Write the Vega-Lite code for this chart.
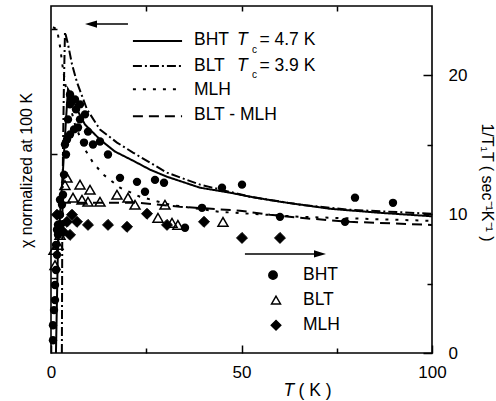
{
  "$schema": "https://vega.github.io/schema/vega-lite/v6.json",
  "width": 381,
  "height": 347,
  "autosize": {"type": "none"},
  "padding": {"left": 51, "top": 6, "right": 64, "bottom": 48},
  "background": "white",
  "config": {
    "view": {"stroke": "black", "strokeWidth": 1.6},
    "axis": {"grid": false, "domain": false, "tickColor": "black", "tickWidth": 1.5, "labelColor": "black", "labelFont": "Liberation Sans", "labelFontSize": 17, "titleFont": "Liberation Sans", "titleFontWeight": "normal", "titleColor": "black", "titleFontSize": 17, "labelFlush": false, "labelOverlap": false}
  },
  "datasets": {
    "curves": [
      {"s": "BHT", "T": 1.3, "v": 0}, {"s": "BHT", "T": 1.84, "v": 7.77}, {"s": "BHT", "T": 3.15, "v": 13.21}, {"s": "BHT", "T": 3.94, "v": 16.83}, {"s": "BHT", "T": 4.46, "v": 19.0}, {"s": "BHT", "T": 5.51, "v": 18.49}, {"s": "BHT", "T": 6.82, "v": 17.55}, {"s": "BHT", "T": 8.92, "v": 16.46}, {"s": "BHT", "T": 12.86, "v": 15.38}, {"s": "BHT", "T": 16.8, "v": 14.51}, {"s": "BHT", "T": 21.52, "v": 13.86}, {"s": "BHT", "T": 25.98, "v": 13.21}, {"s": "BHT", "T": 30.45, "v": 12.7}, {"s": "BHT", "T": 39.11, "v": 11.91}, {"s": "BHT", "T": 46.98, "v": 11.55}, {"s": "BHT", "T": 52.23, "v": 11.26}, {"s": "BHT", "T": 60.1, "v": 10.9}, {"s": "BHT", "T": 73.23, "v": 10.39}, {"s": "BHT", "T": 86.35, "v": 10.1}, {"s": "BHT", "T": 100, "v": 9.85},
      {"s": "BLT", "T": 2.85, "v": 0}, {"s": "BLT", "T": 2.95, "v": 8.0}, {"s": "BLT", "T": 3.15, "v": 14.65}, {"s": "BLT", "T": 3.4, "v": 19.5}, {"s": "BLT", "T": 3.67, "v": 23.12}, {"s": "BLT", "T": 4.46, "v": 22.25}, {"s": "BLT", "T": 5.51, "v": 20.8}, {"s": "BLT", "T": 6.82, "v": 19.5}, {"s": "BLT", "T": 9.45, "v": 17.55}, {"s": "BLT", "T": 12.86, "v": 16.1}, {"s": "BLT", "T": 17.32, "v": 15.16}, {"s": "BLT", "T": 21.52, "v": 14.44}, {"s": "BLT", "T": 30.45, "v": 12.99}, {"s": "BLT", "T": 39.11, "v": 12.13}, {"s": "BLT", "T": 52.23, "v": 11.26}, {"s": "BLT", "T": 65.35, "v": 10.68}, {"s": "BLT", "T": 78.48, "v": 10.32}, {"s": "BLT", "T": 100, "v": 10.03},
      {"s": "MLH", "T": 0.52, "v": 23.47}, {"s": "MLH", "T": 1.57, "v": 23.33}, {"s": "MLH", "T": 2.36, "v": 22.1}, {"s": "MLH", "T": 3.15, "v": 20.44}, {"s": "MLH", "T": 4.2, "v": 18.63}, {"s": "MLH", "T": 6.3, "v": 16.46}, {"s": "MLH", "T": 8.92, "v": 14.66}, {"s": "MLH", "T": 11.02, "v": 13.72}, {"s": "MLH", "T": 13.75, "v": 12.85}, {"s": "MLH", "T": 18.11, "v": 11.91}, {"s": "MLH", "T": 23.36, "v": 11.26}, {"s": "MLH", "T": 31.23, "v": 10.68}, {"s": "MLH", "T": 44.36, "v": 10.17}, {"s": "MLH", "T": 65.35, "v": 9.81}, {"s": "MLH", "T": 100, "v": 9.52},
      {"s": "BLT - MLH", "T": 2.62, "v": 10.82}, {"s": "BLT - MLH", "T": 10.24, "v": 10.82}, {"s": "BLT - MLH", "T": 23.36, "v": 10.82}, {"s": "BLT - MLH", "T": 33.86, "v": 10.54}, {"s": "BLT - MLH", "T": 49.61, "v": 10.25}, {"s": "BLT - MLH", "T": 57.48, "v": 9.96}, {"s": "BLT - MLH", "T": 65.35, "v": 9.74}, {"s": "BLT - MLH", "T": 78.48, "v": 9.45}, {"s": "BLT - MLH", "T": 100, "v": 9.23}
    ],
    "keylines": [
      {"s": "BHT", "T": 21.5, "v": 22.47}, {"s": "BHT", "T": 34.4, "v": 22.47},
      {"s": "BLT", "T": 21.5, "v": 20.68}, {"s": "BLT", "T": 34.4, "v": 20.68},
      {"s": "MLH", "T": 21.5, "v": 19.0}, {"s": "MLH", "T": 34.4, "v": 19.0},
      {"s": "BLT - MLH", "T": 21.5, "v": 17.06}, {"s": "BLT - MLH", "T": 34.4, "v": 17.06}
    ],
    "bht": [
      {"T": 0.52, "v": 0.92}, {"T": 0.52, "v": 2.0}, {"T": 0.79, "v": 3.09}, {"T": 1.05, "v": 3.81}, {"T": 1.05, "v": 4.9}, {"T": 1.31, "v": 5.98}, {"T": 1.57, "v": 7.07}, {"T": 1.31, "v": 7.79}, {"T": 1.84, "v": 8.52}, {"T": 1.84, "v": 9.24}, {"T": 2.36, "v": 9.96}, {"T": 2.89, "v": 10.68}, {"T": 2.36, "v": 11.04}, {"T": 1.57, "v": 8.88},
      {"T": 3.15, "v": 11.4}, {"T": 3.41, "v": 12.85}, {"T": 3.94, "v": 14.3}, {"T": 4.2, "v": 15.38}, {"T": 4.46, "v": 16.83}, {"T": 4.99, "v": 17.91}, {"T": 5.51, "v": 18.27}, {"T": 6.56, "v": 17.55}, {"T": 7.61, "v": 16.83}, {"T": 6.04, "v": 16.11}, {"T": 4.99, "v": 18.63}, {"T": 6.3, "v": 18.27}, {"T": 7.61, "v": 17.91}, {"T": 8.92, "v": 17.19}, {"T": 7.09, "v": 16.25}, {"T": 4.99, "v": 15.74}, {"T": 3.67, "v": 15.02}, {"T": 9.71, "v": 15.95},
      {"T": 8.66, "v": 15.16}, {"T": 11.02, "v": 15.02}, {"T": 12.86, "v": 15.24}, {"T": 14.96, "v": 14.3}, {"T": 18.11, "v": 12.62}, {"T": 22.57, "v": 12.33}, {"T": 27.3, "v": 12.47}, {"T": 29.66, "v": 12.27}, {"T": 44.88, "v": 11.91}, {"T": 50.13, "v": 12.13}, {"T": 79.79, "v": 11.19}, {"T": 89.76, "v": 10.82},
      {"T": 24.67, "v": 11.62}, {"T": 39.63, "v": 10.46}, {"T": 35.17, "v": 9.02}, {"T": 60.1, "v": 9.81}, {"T": 77.17, "v": 9.45}
    ],
    "blt": [
      {"T": 1.05, "v": 6.33}, {"T": 0.79, "v": 7.43}, {"T": 1.84, "v": 7.79}, {"T": 2.36, "v": 8.51}, {"T": 3.67, "v": 12.1}, {"T": 4.2, "v": 12.63}, {"T": 5.77, "v": 11.19}, {"T": 7.61, "v": 12.13}, {"T": 8.14, "v": 11.04}, {"T": 10.24, "v": 11.76}, {"T": 9.71, "v": 10.9}, {"T": 12.86, "v": 10.9}, {"T": 17.32, "v": 11.4}, {"T": 20.21, "v": 11.19}, {"T": 22.05, "v": 10.68}, {"T": 28.08, "v": 9.74}, {"T": 29.92, "v": 10.68}, {"T": 31.76, "v": 9.38}, {"T": 33.3, "v": 9.23}, {"T": 45.14, "v": 9.45}
    ],
    "mlh": [
      {"T": 1.57, "v": 9.96}, {"T": 2.36, "v": 9.23}, {"T": 3.15, "v": 8.73}, {"T": 4.2, "v": 9.45}, {"T": 5.51, "v": 9.96}, {"T": 6.82, "v": 9.45}, {"T": 4.99, "v": 8.51}, {"T": 9.71, "v": 9.23}, {"T": 14.96, "v": 9.23}, {"T": 19.95, "v": 9.09}, {"T": 25.2, "v": 10.03}, {"T": 30.45, "v": 9.23}, {"T": 40.16, "v": 9.45}, {"T": 50.13, "v": 8.29}, {"T": 60.1, "v": 8.29}
    ],
    "keypoints": [
      {"kind": "BHT", "T": 58.27, "v": 5.61}, {"kind": "BLT", "T": 59.06, "v": 3.81}, {"kind": "MLH", "T": 59.06, "v": 2.0}
    ],
    "labels": [
      {"T": 37.53, "v": 22.54, "text": "BHT"}, {"T": 37.53, "v": 20.66, "text": "BLT"}, {"T": 37.53, "v": 18.92, "text": "MLH"}, {"T": 37.53, "v": 17.12, "text": "BLT - MLH"},
      {"T": 54.7, "v": 22.54, "text": "= 4.7 K"}, {"T": 54.7, "v": 20.66, "text": "= 3.9 K"},
      {"T": 66.14, "v": 5.61, "text": "BHT"}, {"T": 66.14, "v": 3.81, "text": "BLT"}, {"T": 66.14, "v": 2.0, "text": "MLH"}
    ],
    "italics": [
      {"T": 48.82, "v": 22.54, "text": "T"}, {"T": 48.82, "v": 20.66, "text": "T"}
    ],
    "subs": [
      {"T": 52.76, "v": 21.85, "text": "c"}, {"T": 52.76, "v": 20.04, "text": "c"}
    ],
    "arrowlines": [
      {"T": 10.5, "T2": 20.2, "v": 23.7}, {"T": 50.9, "T2": 70.6, "v": 7.14}
    ],
    "arrowheads": [
      {"T": 10.5, "v": 23.7, "dir": "left"}, {"T": 70.6, "v": 7.14, "dir": "right"}
    ]
  },
  "layer": [
    {
      "data": {"name": "curves"},
      "mark": {"type": "line", "strokeWidth": 2, "color": "black"},
      "encoding": {
        "x": {"field": "T", "type": "quantitative", "scale": {"domain": [0, 100], "nice": false, "zero": false},
          "axis": {"orient": "bottom", "values": [0, 50, 100], "tickSize": -8, "labelPadding": 32, "labelBaseline": "alphabetic", "title": "( K )", "titleX": 247, "titleY": 42, "titleAlign": "left", "titleBaseline": "alphabetic", "titleFontSize": 17.5}},
        "y": {"field": "v", "type": "quantitative", "scale": {"domain": [0, 25], "nice": false, "zero": false},
          "axis": {"orient": "right", "values": [0, 10, 20], "tickSize": -9, "labelPadding": 25, "title": "1/T₁T ( sec⁻¹K⁻¹ )", "titleAngle": 90, "titleX": 54, "titleY": 176, "titleAlign": "center", "titleBaseline": "middle", "titleFontSize": 16}},
        "strokeDash": {"field": "s", "type": "nominal", "scale": {"domain": ["BHT", "BLT", "MLH", "BLT - MLH"], "range": [[1, 0], [9, 3, 2, 3], [3, 7], [10, 6]]}, "legend": null}
      }
    },
    {
      "data": {"name": "keylines"},
      "mark": {"type": "line", "strokeWidth": 2, "color": "black"},
      "encoding": {
        "x": {"field": "T", "type": "quantitative", "scale": {"domain": [0, 100], "nice": false, "zero": false},
          "axis": {"orient": "bottom", "values": [25, 75], "tickSize": -5, "labels": false, "title": null}},
        "y": {"field": "v", "type": "quantitative", "scale": {"domain": [0, 25], "nice": false, "zero": false},
          "axis": {"orient": "right", "values": [5, 15], "tickSize": -5, "labels": false, "title": null}},
        "strokeDash": {"field": "s", "type": "nominal", "scale": {"domain": ["BHT", "BLT", "MLH", "BLT - MLH"], "range": [[1, 0], [9, 3, 2, 3], [3, 7], [10, 6]]}, "legend": null}
      }
    },
    {
      "data": {"name": "bht"},
      "mark": {"type": "point", "shape": "circle", "filled": true, "color": "black", "size": 70, "opacity": 1},
      "encoding": {
        "x": {"field": "T", "type": "quantitative", "scale": {"domain": [0, 100], "nice": false, "zero": false},
          "axis": {"orient": "top", "values": [25, 50, 75], "tickSize": -5, "labels": false, "title": null}},
        "y": {"field": "v", "type": "quantitative", "scale": {"domain": [0, 25], "nice": false, "zero": false},
          "axis": {"orient": "left", "values": [5.4, 14.37, 23.33], "tickSize": -6, "labels": false, "title": "χ normalized at 100 K", "titleAngle": -90, "titleX": -25, "titleY": 164, "titleAlign": "center", "titleBaseline": "middle", "titleFontSize": 16}}
      }
    },
    {
      "data": {"name": "blt"},
      "mark": {"type": "point", "shape": "triangle-up", "filled": false, "color": "black", "strokeWidth": 1.5, "size": 100, "opacity": 1},
      "encoding": {
        "x": {"field": "T", "type": "quantitative", "scale": {"domain": [0, 100], "nice": false, "zero": false},
          "axis": {"orient": "bottom", "labels": false, "ticks": false, "title": "T", "titleFontStyle": "italic", "titleX": 232, "titleY": 42, "titleAlign": "left", "titleBaseline": "alphabetic", "titleFontSize": 17.5}},
        "y": {"field": "v", "type": "quantitative", "scale": {"domain": [0, 25], "nice": false, "zero": false}, "axis": null}
      }
    },
    {
      "data": {"name": "mlh"},
      "mark": {"type": "point", "shape": "diamond", "filled": true, "fill": "black", "stroke": "black", "strokeWidth": 1, "size": 120, "opacity": 1},
      "encoding": {
        "x": {"field": "T", "type": "quantitative", "scale": {"domain": [0, 100], "nice": false, "zero": false}, "axis": null},
        "y": {"field": "v", "type": "quantitative", "scale": {"domain": [0, 25], "nice": false, "zero": false}, "axis": null}
      }
    },
    {
      "data": {"name": "keypoints"},
      "mark": {"type": "point", "filled": true, "stroke": "black", "strokeWidth": 1.5, "opacity": 1},
      "encoding": {
        "x": {"field": "T", "type": "quantitative", "scale": {"domain": [0, 100], "nice": false, "zero": false}, "axis": null},
        "y": {"field": "v", "type": "quantitative", "scale": {"domain": [0, 25], "nice": false, "zero": false}, "axis": null},
        "shape": {"field": "kind", "type": "nominal", "scale": {"domain": ["BHT", "BLT", "MLH"], "range": ["circle", "triangle-up", "diamond"]}, "legend": null},
        "fill": {"field": "kind", "type": "nominal", "scale": {"domain": ["BHT", "BLT", "MLH"], "range": ["black", "white", "black"]}, "legend": null},
        "size": {"field": "kind", "type": "nominal", "scale": {"domain": ["BHT", "BLT", "MLH"], "range": [70, 90, 120]}, "legend": null}
      }
    },
    {
      "data": {"name": "labels"},
      "mark": {"type": "text", "align": "left", "baseline": "middle", "font": "Liberation Sans", "fontSize": 17.5, "color": "black"},
      "encoding": {
        "x": {"field": "T", "type": "quantitative", "scale": {"domain": [0, 100], "nice": false, "zero": false}, "axis": null},
        "y": {"field": "v", "type": "quantitative", "scale": {"domain": [0, 25], "nice": false, "zero": false}, "axis": null},
        "text": {"field": "text"}
      }
    },
    {
      "data": {"name": "italics"},
      "mark": {"type": "text", "align": "left", "baseline": "middle", "font": "Liberation Sans", "fontStyle": "italic", "fontSize": 17.5, "color": "black"},
      "encoding": {
        "x": {"field": "T", "type": "quantitative", "scale": {"domain": [0, 100], "nice": false, "zero": false}, "axis": null},
        "y": {"field": "v", "type": "quantitative", "scale": {"domain": [0, 25], "nice": false, "zero": false}, "axis": null},
        "text": {"field": "text"}
      }
    },
    {
      "data": {"name": "subs"},
      "mark": {"type": "text", "align": "left", "baseline": "middle", "font": "Liberation Sans", "fontSize": 10, "color": "black"},
      "encoding": {
        "x": {"field": "T", "type": "quantitative", "scale": {"domain": [0, 100], "nice": false, "zero": false}, "axis": null},
        "y": {"field": "v", "type": "quantitative", "scale": {"domain": [0, 25], "nice": false, "zero": false}, "axis": null},
        "text": {"field": "text"}
      }
    },
    {
      "data": {"name": "arrowlines"},
      "mark": {"type": "rule", "color": "black", "strokeWidth": 1.5},
      "encoding": {
        "x": {"field": "T", "type": "quantitative", "scale": {"domain": [0, 100], "nice": false, "zero": false}, "axis": null},
        "x2": {"field": "T2"},
        "y": {"field": "v", "type": "quantitative", "scale": {"domain": [0, 25], "nice": false, "zero": false}, "axis": null}
      }
    },
    {
      "data": {"name": "arrowheads"},
      "mark": {"type": "point", "filled": true, "color": "black", "size": 144, "opacity": 1},
      "encoding": {
        "x": {"field": "T", "type": "quantitative", "scale": {"domain": [0, 100], "nice": false, "zero": false}, "axis": null},
        "y": {"field": "v", "type": "quantitative", "scale": {"domain": [0, 25], "nice": false, "zero": false}, "axis": null},
        "shape": {"field": "dir", "type": "nominal", "scale": {"domain": ["left", "right"], "range": ["M -1 0 L 1 -0.6 L 1 0.6 Z", "M 1 0 L -1 -0.6 L -1 0.6 Z"]}, "legend": null}
      }
    }
  ],
  "resolve": {"axis": {"x": "independent", "y": "independent"}, "scale": {"shape": "independent"}}
}
